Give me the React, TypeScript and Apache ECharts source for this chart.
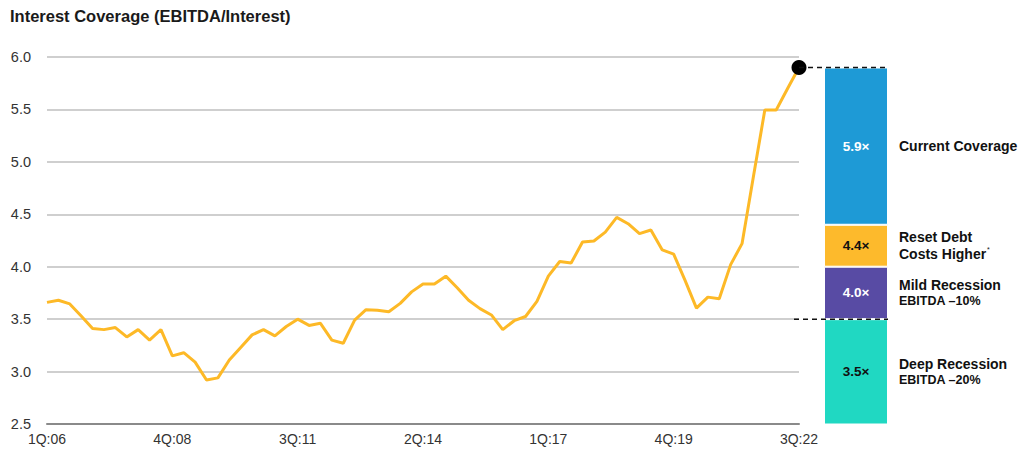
import React, { useEffect, useRef } from "react";
import * as echarts from "echarts";

// ---- data ----
const years = [6, 7, 8, 9, 10, 11, 12, 13, 14, 15, 16, 17, 18, 19, 20, 21, 22];
const quarters: string[] = [];
years.forEach((y) => {
  for (let q = 1; q <= 4; q++) {
    if (y === 22 && q > 3) break;
    quarters.push(`${q}Q:${String(y).padStart(2, "0")}`);
  }
});

const coverage = [
  3.66, 3.68, 3.645, 3.53, 3.41, 3.40, 3.42, 3.33, 3.40, 3.30,
  3.40, 3.15, 3.18, 3.09, 2.92, 2.94, 3.11, 3.23, 3.35, 3.40,
  3.34, 3.43, 3.50, 3.44, 3.46, 3.30, 3.27, 3.49, 3.59, 3.585,
  3.57, 3.65, 3.76, 3.835, 3.835, 3.91, 3.80, 3.68, 3.60, 3.54,
  3.40, 3.485, 3.525, 3.67, 3.91, 4.05, 4.035, 4.235, 4.245, 4.33,
  4.47, 4.41, 4.315, 4.35, 4.16, 4.12, 3.87, 3.605, 3.71, 3.695,
  4.02, 4.22, 4.86, 5.495, 5.495, 5.70, 5.90,
];

const yTicks = [2.5, 3.0, 3.5, 4.0, 4.5, 5.0, 5.5, 6.0];

// scenarios, bottom to top
const scenarioValues = [3.5, 4.0, 4.4, 5.9];
const scenarioColors = ["#20D8C2", "#584BA4", "#FDBA2C", "#1E9AD6"];
const scenarioValueColors = ["#111111", "#ffffff", "#111111", "#ffffff"];
const scenarioNames = [
  "{b|Deep Recession}\n{s|EBITDA –20%}",
  "{b|Mild Recession}\n{s|EBITDA –10%}",
  "{b|Reset Debt}\n{b|Costs Higher}{sup|*}",
  "{b|Current Coverage}",
];

const FONT = "Liberation Sans, Arial, sans-serif";
const LINE_COLOR = "#FDB927";
const BAR_LEFT = 824;
const BAR_W = 64;

export default function App() {
  const ref = useRef<HTMLDivElement>(null);

  useEffect(() => {
    if (!ref.current) return;
    const chart = echarts.init(ref.current, undefined, { renderer: "svg" });

    const segs = scenarioValues.map((v, i) => (i === 0 ? v : +(v - scenarioValues[i - 1]).toFixed(2)));

    const barSeries: any[] = segs.map((s, i) => ({
      type: "bar",
      xAxisIndex: 1,
      yAxisIndex: 1,
      stack: "scen",
      barWidth: BAR_W,
      barGap: "-100%",
      data: [s],
      itemStyle: { color: scenarioColors[i], borderColor: "#ffffff", borderWidth: 1 },
      label: {
        show: true,
        position: "inside",
        formatter: () => `${scenarioValues[i].toFixed(1)}×`,
        color: scenarioValueColors[i],
        fontFamily: FONT,
        fontWeight: "bold",
        fontSize: 13.5,
      },
      silent: true,
      z: 3,
    }));

    const nameSeries: any[] = segs.map((s, i) => ({
      type: "bar",
      xAxisIndex: 1,
      yAxisIndex: 1,
      stack: "names",
      barWidth: BAR_W,
      barGap: "-100%",
      data: [s],
      itemStyle: { color: "rgba(0,0,0,0)" },
      label: {
        show: true,
        position: "right",
        distance: 11,
        formatter: () => scenarioNames[i],
        fontFamily: FONT,
        rich: {
          b: { fontFamily: FONT, fontWeight: "bold", fontSize: 14, color: "#111111", lineHeight: 17 },
          s: { fontFamily: FONT, fontWeight: "bold", fontSize: 12.5, color: "#111111", lineHeight: 16 },
          sup: { fontFamily: FONT, fontSize: 7, color: "#111111", verticalAlign: "top", lineHeight: 17, padding: [0, 0, 8, 1] },
        },
      },
      silent: true,
      z: 2,
    }));

    const last = coverage.length - 1;

    chart.setOption({
      animation: false,
      backgroundColor: "#ffffff",
      title: {
        text: "Interest Coverage (EBITDA/Interest)",
        left: 5,
        top: 2,
        textStyle: { fontFamily: FONT, fontWeight: "bold", fontSize: 16.5, color: "#1a1a1a" },
      },
      grid: [
        { left: 47, right: 225, top: 57, bottom: 36 },
        { left: BAR_LEFT, width: BAR_W, top: 57, bottom: 36 },
      ],
      xAxis: [
        {
          type: "category",
          gridIndex: 0,
          data: quarters,
          boundaryGap: false,
          axisLine: { show: true, lineStyle: { color: "#8a8a8a", width: 2 } },
          axisTick: { show: false },
          axisLabel: {
            interval: 10,
            color: "#333333",
            fontFamily: FONT,
            fontSize: 14,
            margin: 8,
          },
          splitLine: { show: false },
        },
        {
          type: "category",
          gridIndex: 1,
          data: ["scenario"],
          show: false,
        },
      ],
      yAxis: [
        {
          type: "value",
          gridIndex: 0,
          min: yTicks[0],
          max: yTicks[yTicks.length - 1],
          interval: 0.5,
          axisLine: { show: false },
          axisTick: { show: false },
          axisLabel: {
            formatter: (v: number) => v.toFixed(1),
            color: "#333333",
            fontFamily: FONT,
            fontSize: 14.5,
            margin: 16,
          },
          splitLine: { show: true, lineStyle: { color: "#cfcfcf", width: 2 } },
        },
        {
          type: "value",
          gridIndex: 1,
          min: yTicks[0],
          max: yTicks[yTicks.length - 1],
          show: false,
          splitLine: { show: false },
        },
      ],
      series: [
        {
          type: "line",
          xAxisIndex: 0,
          yAxisIndex: 0,
          data: coverage,
          showSymbol: false,
          symbol: "none",
          lineStyle: { color: LINE_COLOR, width: 3 },
          z: 3,
        },
        {
          type: "scatter",
          xAxisIndex: 0,
          yAxisIndex: 0,
          data: [[quarters[last], coverage[last]]],
          symbolSize: 15,
          itemStyle: { color: "#000000", opacity: 1 },
          z: 5,
        },
        ...barSeries,
        ...nameSeries,
      ],
    });

    const xDot = chart.convertToPixel({ xAxisIndex: 0 }, quarters[last]) as number;
    const yTop = chart.convertToPixel({ yAxisIndex: 0 }, scenarioValues[3]) as number;
    const yBot = chart.convertToPixel({ yAxisIndex: 0 }, scenarioValues[0]) as number;
    const xEnd = BAR_LEFT + BAR_W;
    const dash = { stroke: "#111111", lineWidth: 1.5, lineDash: [5, 4] };

    chart.setOption({
      graphic: [
        { type: "line", z: 10, shape: { x1: xDot, y1: yTop, x2: xEnd, y2: yTop }, style: dash, silent: true },
        { type: "line", z: 10, shape: { x1: xDot - 5, y1: yBot, x2: xEnd, y2: yBot }, style: dash, silent: true },
      ],
    });

    return () => chart.dispose();
  }, []);

  return (
    <div
      ref={ref}
      style={{ position: "fixed", left: 0, top: 0, width: 1024, height: 460, background: "#fff" }}
    />
  );
}
